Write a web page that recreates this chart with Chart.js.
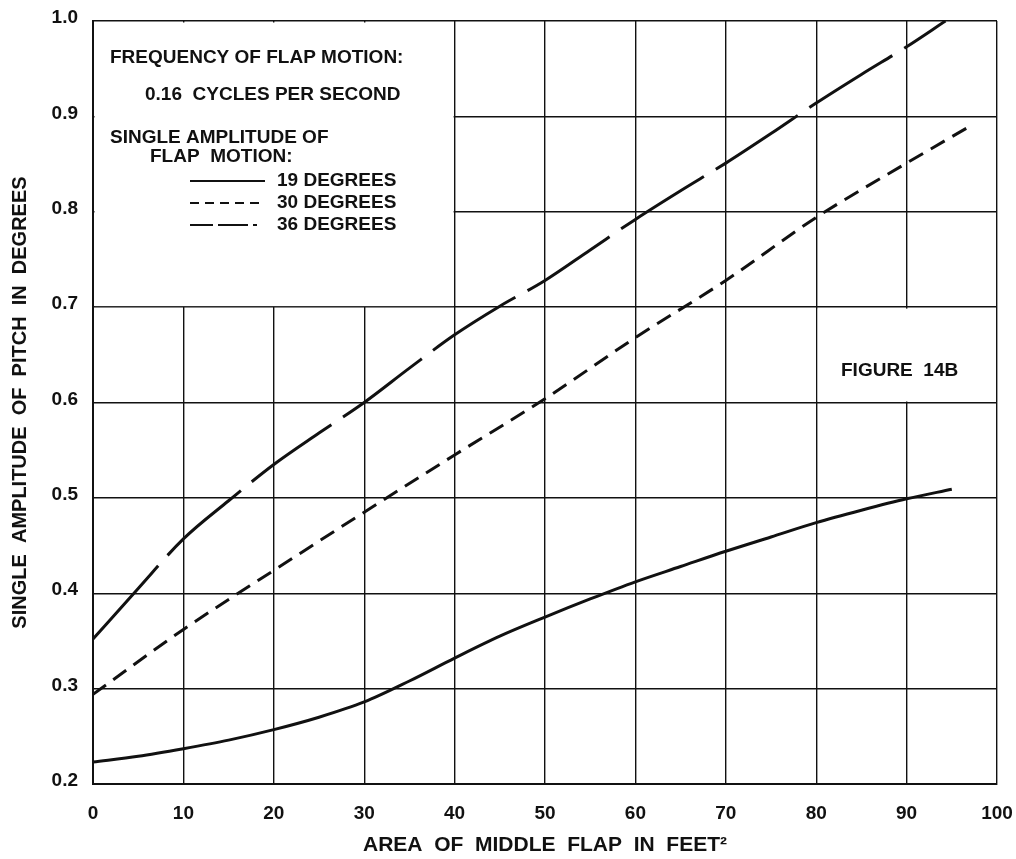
<!DOCTYPE html>
<html>
<head>
<meta charset="utf-8">
<script src="https://cdn.jsdelivr.net/npm/chart.js@4/dist/chart.umd.min.js"></script>
<style>
  html, body { margin: 0; padding: 0; background: #fff; }
</style>
</head>
<body>
<canvas id="chart" width="1016" height="859"></canvas>
<script>
// area of middle flap (ft^2) and pitch amplitude (deg)
const AREA_19 = [0, 5, 10, 15, 20, 25, 30, 35, 40, 45, 50, 55, 60, 65, 70, 75, 80, 85, 90, 95];
const PITCH_19 = [0.223, 0.229, 0.237, 0.246, 0.257, 0.270, 0.286, 0.308, 0.332, 0.355, 0.375, 0.394, 0.412, 0.428, 0.444, 0.459, 0.474, 0.487, 0.499, 0.509];

const AREA_30 = [0, 10, 20, 30, 40, 50, 60, 70, 80, 90, 96.7];
const PITCH_30 = [0.294, 0.362, 0.424, 0.485, 0.545, 0.604, 0.668, 0.728, 0.794, 0.851, 0.888];

const AREA_36 = [0, 5, 10, 15, 20, 25, 30, 35, 40, 45, 50, 55, 60, 65, 70, 75, 80, 85, 90, 94.3];
const PITCH_36 = [0.352, 0.405, 0.457, 0.497, 0.535, 0.568, 0.600, 0.636, 0.671, 0.701, 0.728, 0.760, 0.792, 0.822, 0.851, 0.882, 0.914, 0.944, 0.973, 1.0];

const X_TICKS = [0, 10, 20, 30, 40, 50, 60, 70, 80, 90, 100];
const Y_TICKS = [0.2, 0.3, 0.4, 0.5, 0.6, 0.7, 0.8, 0.9, 1.0];
const Y_TICK_LABELS = ['0.2', '0.3', '0.4', '0.5', '0.6', '0.7', '0.8', '0.9', '1.0'];

const SERIES_NAMES = ['19 DEGREES', '30 DEGREES', '36 DEGREES'];

const INK = '#111';
const FONT = '"Liberation Sans", Arial, sans-serif';

function points(xs, ys) {
    return xs.map((x, i) => ({x: x, y: ys[i]}));
}

// blank out the grid under the notes, then write the notes and the line key
const notesPlugin = {
    id: 'notes',
    beforeDatasetsDraw(chart) {
        const {ctx, scales: {x, y}} = chart;
        const boxes = [[0, 40, 0.7, 1.0], [80, 100, 0.6, 0.7]];
        ctx.save();
        ctx.fillStyle = '#fff';
        for (const [x0, x1, y0, y1] of boxes) {
            const l = x.getPixelForValue(x0) + 1.5;
            const r = x.getPixelForValue(x1) - 1;
            const t = y.getPixelForValue(y1) + 1.5;
            const b = y.getPixelForValue(y0) - 1;
            ctx.fillRect(l, t, r - l, b - t);
        }
        ctx.restore();
    },
    afterDatasetsDraw(chart) {
        const {ctx, chartArea: a} = chart;
        const left = a.left, top = a.top;
        ctx.save();
        ctx.fillStyle = INK;
        ctx.strokeStyle = INK;
        ctx.font = 'bold 19px ' + FONT;
        ctx.textBaseline = 'middle';
        ctx.textAlign = 'left';
        ctx.fillText('FREQUENCY OF FLAP MOTION:', left + 17, top + 37);
        ctx.fillText('0.16  CYCLES PER SECOND', left + 52, top + 74);
        ctx.fillText('SINGLE AMPLITUDE OF', left + 17, top + 117);
        ctx.fillText('FLAP  MOTION:', left + 57, top + 136);

        const dashes = [[], [9, 6], [23, 5, 30, 5, 4, 100]];
        const rowY = [160, 182, 204];
        ctx.lineWidth = 2;
        for (let i = 0; i < SERIES_NAMES.length; i++) {
            const yy = top + rowY[i];
            ctx.setLineDash(dashes[i]);
            ctx.beginPath();
            ctx.moveTo(left + 97, yy);
            ctx.lineTo(left + 172, yy);
            ctx.stroke();
            ctx.fillText(SERIES_NAMES[i], left + 184, yy);
        }
        ctx.setLineDash([]);

        ctx.textAlign = 'center';
        ctx.fillText('FIGURE  14B', chart.scales.x.getPixelForValue(90) - 7, chart.scales.y.getPixelForValue(0.65) + 16);
        ctx.restore();
    }
};

const ctx = document.getElementById('chart').getContext('2d');
new Chart(ctx, {
    type: 'line',
    data: {
        datasets: [{
            label: SERIES_NAMES[0],
            data: points(AREA_19, PITCH_19),
            borderColor: INK,
            borderWidth: 3
        }, {
            label: SERIES_NAMES[1],
            data: points(AREA_30, PITCH_30),
            borderColor: INK,
            borderWidth: 3,
            borderDash: [16, 9]
        }, {
            label: SERIES_NAMES[2],
            data: points(AREA_36, PITCH_36),
            borderColor: INK,
            borderWidth: 3,
            borderDash: [98, 14]
        }]
    },
    options: {
        responsive: false,
        animation: false,
        devicePixelRatio: 1,
        layout: {
            padding: {top: 21, right: 19, left: 0, bottom: 0}
        },
        elements: {
            point: {radius: 0},
            line: {cubicInterpolationMode: 'monotone', fill: false}
        },
        plugins: {
            legend: {display: false},
            tooltip: {enabled: false}
        },
        scales: {
            x: {
                type: 'linear',
                min: 0,
                max: 100,
                afterBuildTicks: (scale) => { scale.ticks = X_TICKS.map(v => ({value: v})); },
                afterFit: (scale) => {
                    scale.height = 75;
                    scale.paddingLeft = 0;
                    scale.paddingRight = 0;
                },
                grid: {color: INK, lineWidth: 1.4, drawTicks: false},
                border: {display: true, color: INK, width: 2},
                ticks: {
                    color: INK,
                    padding: 18,
                    font: {family: FONT, size: 19, weight: 'bold'},
                    callback: (v) => String(v)
                },
                title: {
                    display: true,
                    text: 'AREA  OF  MIDDLE  FLAP  IN  FEET\u00B2',
                    color: INK,
                    font: {family: FONT, size: 21, weight: 'bold'},
                    padding: {top: 0, bottom: 1}
                }
            },
            y: {
                type: 'linear',
                min: 0.2,
                max: 1.0,
                afterBuildTicks: (scale) => { scale.ticks = Y_TICKS.map(v => ({value: v})); },
                afterFit: (scale) => {
                    scale.width = 93;
                    scale.paddingTop = 0;
                    scale.paddingBottom = 0;
                },
                grid: {color: INK, lineWidth: 1.4, drawTicks: false},
                border: {display: true, color: INK, width: 2},
                ticks: {
                    color: INK,
                    padding: 15,
                    labelOffset: -3,
                    font: {family: FONT, size: 19, weight: 'bold'},
                    callback: (v, i) => Y_TICK_LABELS[i]
                },
                title: {
                    display: true,
                    text: 'SINGLE  AMPLITUDE  OF  PITCH  IN  DEGREES',
                    color: INK,
                    font: {family: FONT, size: 20, weight: 'bold'},
                    padding: {top: 8, bottom: 0}
                }
            }
        }
    },
    plugins: [notesPlugin]
});
</script>
</body>
</html>
